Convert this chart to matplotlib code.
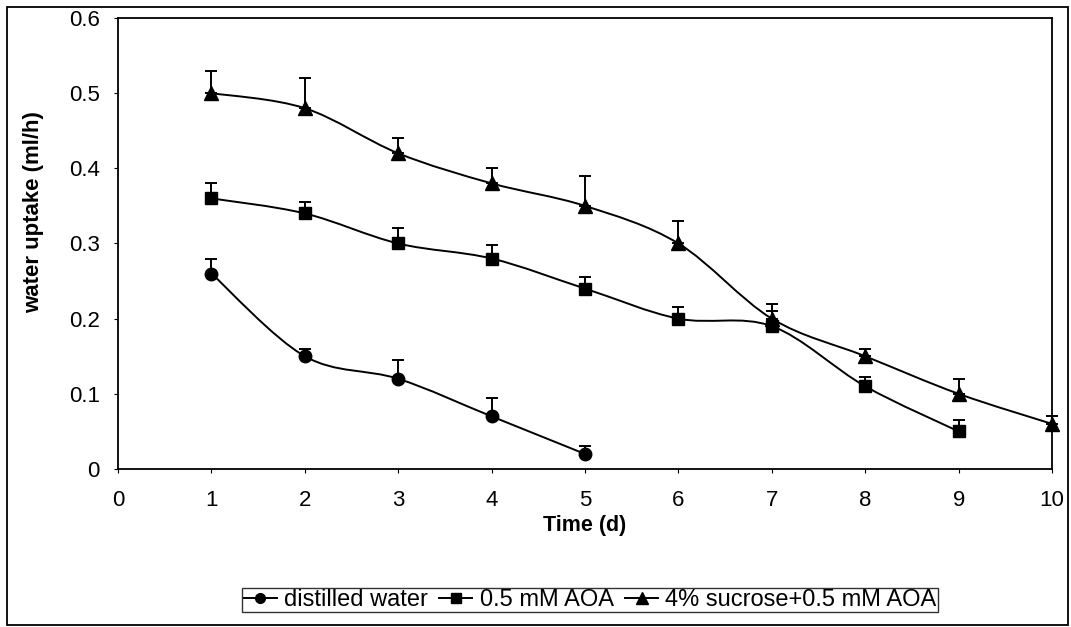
import numpy as np
import matplotlib.pyplot as plt
from matplotlib.path import Path
from matplotlib.patches import PathPatch, Rectangle
from matplotlib.lines import Line2D

plt.rcParams['font.family'] = ['Liberation Sans', 'DejaVu Sans']

# data
days_water = [1, 2, 3, 4, 5]
water = [0.26, 0.15, 0.12, 0.07, 0.02]
water_err = [0.02, 0.01, 0.025, 0.025, 0.01]

days_aoa = [1, 2, 3, 4, 5, 6, 7, 8, 9]
aoa = [0.36, 0.34, 0.30, 0.28, 0.24, 0.20, 0.19, 0.11, 0.05]
aoa_err = [0.02, 0.015, 0.02, 0.018, 0.015, 0.015, 0.02, 0.012, 0.015]

days_suc = [1, 2, 3, 4, 5, 6, 7, 8, 9, 10]
suc = [0.50, 0.48, 0.42, 0.38, 0.35, 0.30, 0.20, 0.15, 0.10, 0.06]
suc_err = [0.03, 0.04, 0.02, 0.02, 0.04, 0.03, 0.02, 0.01, 0.02, 0.01]

labels = ['distilled water', '0.5 mM AOA', '4% sucrose+0.5 mM AOA']
markers = ['o', 's', '^']


def smooth_path(x, y):
    # Excel-like smoothed line: Catmull-Rom segments as cubic Bezier curves
    x = np.asarray(x, float)
    y = np.asarray(y, float)
    n = len(x)
    verts = [(x[0], y[0])]
    codes = [Path.MOVETO]
    for i in range(n - 1):
        i0 = max(i - 1, 0)
        i3 = min(i + 2, n - 1)
        c1 = (x[i] + (x[i + 1] - x[i0]) / 6, y[i] + (y[i + 1] - y[i0]) / 6)
        c2 = (x[i + 1] - (x[i3] - x[i]) / 6, y[i + 1] - (y[i3] - y[i]) / 6)
        verts += [c1, c2, (x[i + 1], y[i + 1])]
        codes += [Path.CURVE4] * 3
    return Path(verts, codes)


fig = plt.figure(figsize=(10.71, 6.27), dpi=100)
ax = fig.add_axes([0.1102, 0.2520, 0.8721, 0.7193])

series = [(days_water, water, water_err),
          (days_aoa, aoa, aoa_err),
          (days_suc, suc, suc_err)]

handles = []
for (d, v, e), m, lab in zip(series, markers, labels):
    ax.add_patch(PathPatch(smooth_path(d, v), fill=False, edgecolor='black',
                           linewidth=1.4, zorder=2))
    ax.errorbar(d, v, yerr=[np.zeros(len(e)), e], fmt='none', ecolor='black',
                elinewidth=1.4, capsize=4, capthick=1.4, zorder=3, clip_on=False)
    ms = 10.5 if m == '^' else 9
    ax.plot(d, v, linestyle='none', marker=m, color='black', markersize=ms,
            zorder=4, clip_on=False)
    handles.append(Line2D([], [], color='black', linewidth=1.4, marker=m,
                          markersize=8 if m == '^' else 7))

ax.set_xlim(0, 10)
ax.set_ylim(0, 0.6)
ax.set_xticks(range(0, 11))
ax.set_yticks(np.arange(0, 0.61, 0.1))
ax.set_yticklabels(['0', '0.1', '0.2', '0.3', '0.4', '0.5', '0.6'])
ax.tick_params(direction='out', length=3, width=0.8, labelsize=16)
ax.tick_params(axis='x', pad=12)
ax.tick_params(axis='y', pad=10)
for s in ax.spines.values():
    s.set_linewidth(1.3)

ax.set_xlabel('Time (d)', fontsize=15.5, fontweight='bold', labelpad=3)
ax.set_ylabel('water uptake (ml/h)', fontsize=16, fontweight='bold')
ax.yaxis.set_label_coords(-0.079, 0.569)

leg = fig.legend(handles, labels, loc='center', bbox_to_anchor=(0.551, 0.043),
                 ncol=3, fontsize=17, frameon=True, fancybox=False,
                 handlelength=1.4, handletextpad=0.3, columnspacing=0.5,
                 borderpad=0.05, borderaxespad=0)
leg.get_frame().set_edgecolor('black')
leg.get_frame().set_linewidth(1.0)

fig.add_artist(Rectangle((0.0065, 0.003), 0.991, 0.986, transform=fig.transFigure,
                         fill=False, edgecolor='black', linewidth=1.3))

fig.savefig('out.png', dpi=100)
